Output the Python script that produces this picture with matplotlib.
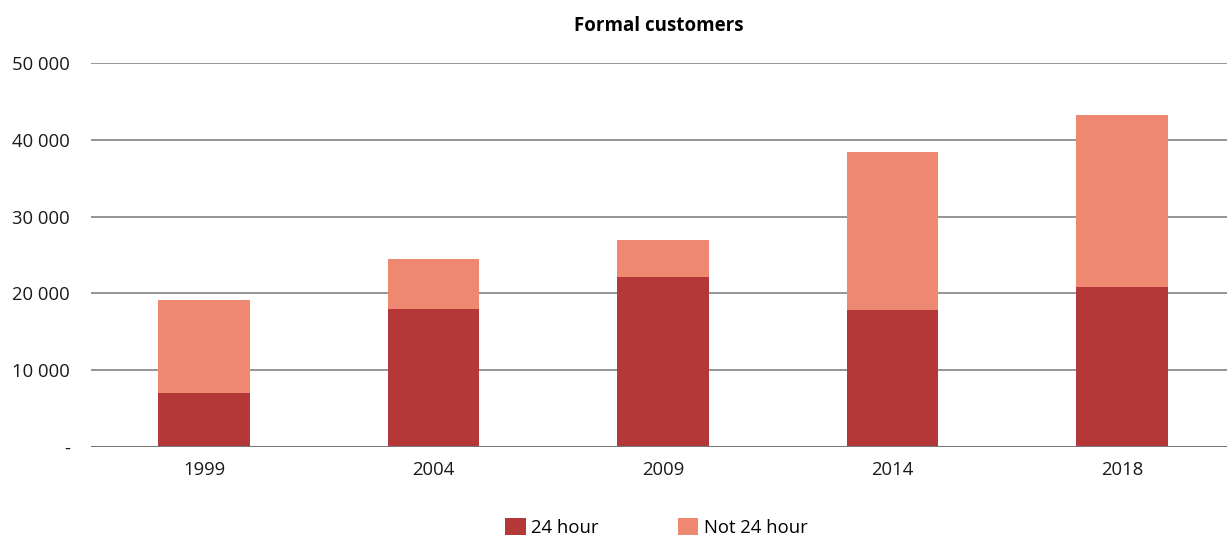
import matplotlib.pyplot as plt
import numpy as np

plt.rcParams["font.family"] = ["Open Sans", "DejaVu Sans"]

years = ["1999", "2004", "2009", "2014", "2018"]
hour_24 = [7000, 18000, 22100, 17800, 20800]
not_24 = [12100, 6450, 4850, 20600, 22400]
yticks = [0, 10000, 20000, 30000, 40000, 50000]
ytick_labels = ["-", "10 000", "20 000", "30 000", "40 000", "50 000"]

c_24 = "#b53838"
c_not = "#ee8870"

fig = plt.figure(figsize=(12.27, 5.35), dpi=100)
ax = fig.add_axes([0.0742, 0.165, 0.9258, 0.7167])

x = np.arange(len(years))
ax.bar(x, hour_24, width=0.4, color=c_24, label="24 hour", zorder=3)
ax.bar(x, not_24, width=0.4, bottom=hour_24, color=c_not, label="Not 24 hour", zorder=3)

ax.set_xlim(-0.492, 4.458)
ax.set_ylim(0, 50000)
ax.set_yticks(yticks)
ax.set_yticklabels(ytick_labels)
ax.set_xticks(x)
ax.set_xticklabels(years)
ax.tick_params(length=0, labelsize=13.3, colors="#1a1a1a")
ax.tick_params(axis="y", pad=15)
ax.tick_params(axis="x", pad=10)
ax.yaxis.grid(True, color="#8c8c8c", linewidth=1.3, zorder=0)
ax.axhline(0, color="#777777", linewidth=1.5, zorder=4)
for s in ax.spines.values():
    s.set_visible(False)

ax.set_title("Formal customers", fontsize=13.5, fontweight="bold", pad=23)

fig.legend(loc="lower center", bbox_to_anchor=(0.535, -0.035), ncol=2, frameon=False,
           fontsize=13.3, handlelength=1.1, handleheight=1.1, columnspacing=4.3,
           handletextpad=0.3)

fig.savefig("out.png", dpi=100)
